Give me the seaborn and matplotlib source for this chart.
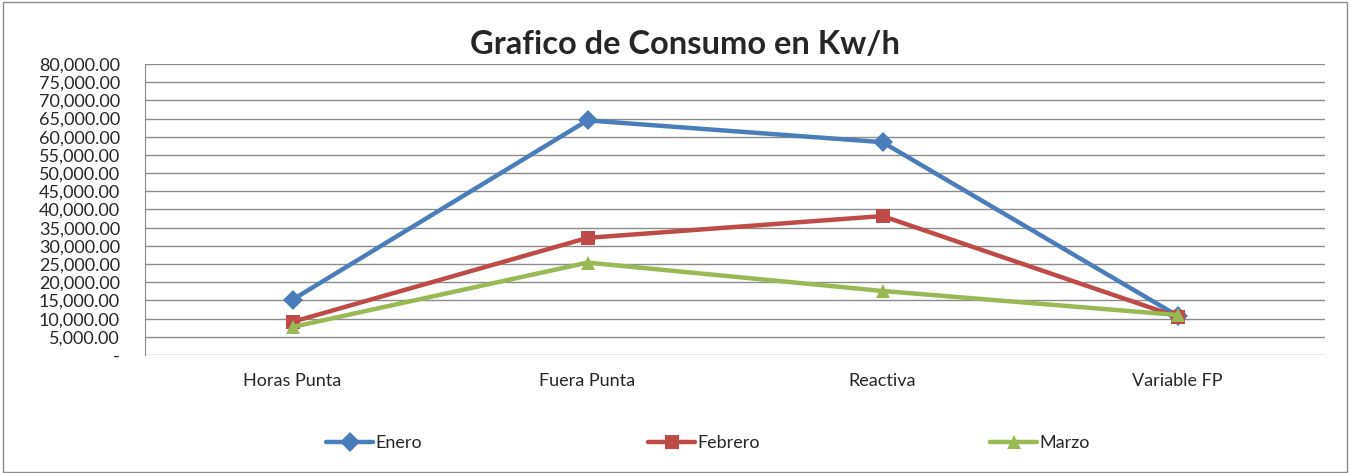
import numpy as np
import pandas as pd
import seaborn as sns
import matplotlib.pyplot as plt
from matplotlib.patches import Rectangle
from matplotlib.ticker import FuncFormatter

# Data
categorias = ["Horas Punta", "Fuera Punta", "Reactiva", "Variable FP"]
enero = [15200, 64500, 58500, 10800]
febrero = [9100, 32200, 38200, 10500]
marzo = [7700, 25400, 17600, 11000]
meses = ["Enero", "Febrero", "Marzo"]

df = pd.DataFrame({
    "categoria": categorias * 3,
    "x": list(range(len(categorias))) * 3,
    "valor": enero + febrero + marzo,
    "mes": [m for m in meses for _ in categorias],
})

sns.set_style("white")
plt.rcParams["font.family"] = ["Lato", "DejaVu Sans"]

colores = {"Enero": "#4A7EBB", "Febrero": "#BE4B48", "Marzo": "#98B954"}
marcadores = {"Enero": "D", "Febrero": "s", "Marzo": "^"}

fig = plt.figure(figsize=(13.51, 4.73), dpi=100)
ax = fig.add_axes([145 / 1351, 1 - 355 / 473, 1180 / 1351, 291 / 473])

sns.lineplot(data=df, x="x", y="valor", hue="mes", style="mes",
             palette=colores, markers=marcadores, dashes=False,
             linewidth=3.2, markersize=10, markeredgewidth=0, ax=ax)

ax.set_xlim(-0.5, 3.5)
ax.set_ylim(0, 80000)
ax.set_yticks(np.arange(0, 80001, 5000))
ax.yaxis.set_major_formatter(FuncFormatter(lambda v, p: "-" if v == 0 else f"{v:,.2f}"))
ax.set_xticks(range(len(categorias)))
ax.set_xticklabels(categorias)
ax.tick_params(axis="both", labelsize=13, length=0)
ax.tick_params(axis="x", pad=13)
ax.tick_params(axis="y", pad=18)
ax.grid(axis="y", color="#8C8C8C", linewidth=1)
ax.set_axisbelow(True)
for s in ["top", "right", "bottom"]:
    ax.spines[s].set_visible(False)
ax.spines["left"].set_color("#8C8C8C")
ax.set_xlabel("")
ax.set_ylabel("")

# Legend: one entry per slot, like the original layout
ax.legend_.remove()
handles, labels = ax.get_legend_handles_labels()
for h, lab, xpos in zip(handles, labels, [310, 632, 974]):
    fig.legend([h], [lab], loc="center left",
               bbox_to_anchor=(xpos / 1351, 1 - 443 / 473),
               frameon=False, fontsize=13, handlelength=2.6,
               handletextpad=0.1)

fig.suptitle("Grafico de Consumo en Kw/h", fontsize=23.5, fontweight="bold",
             x=0.507, y=1 - 45 / 473, va="center")

fig.add_artist(Rectangle((0.002, 0.003), 0.995, 0.993, transform=fig.transFigure,
                         fill=False, edgecolor="#8C8C8C", linewidth=1))

fig.savefig("out.png", dpi=100)
